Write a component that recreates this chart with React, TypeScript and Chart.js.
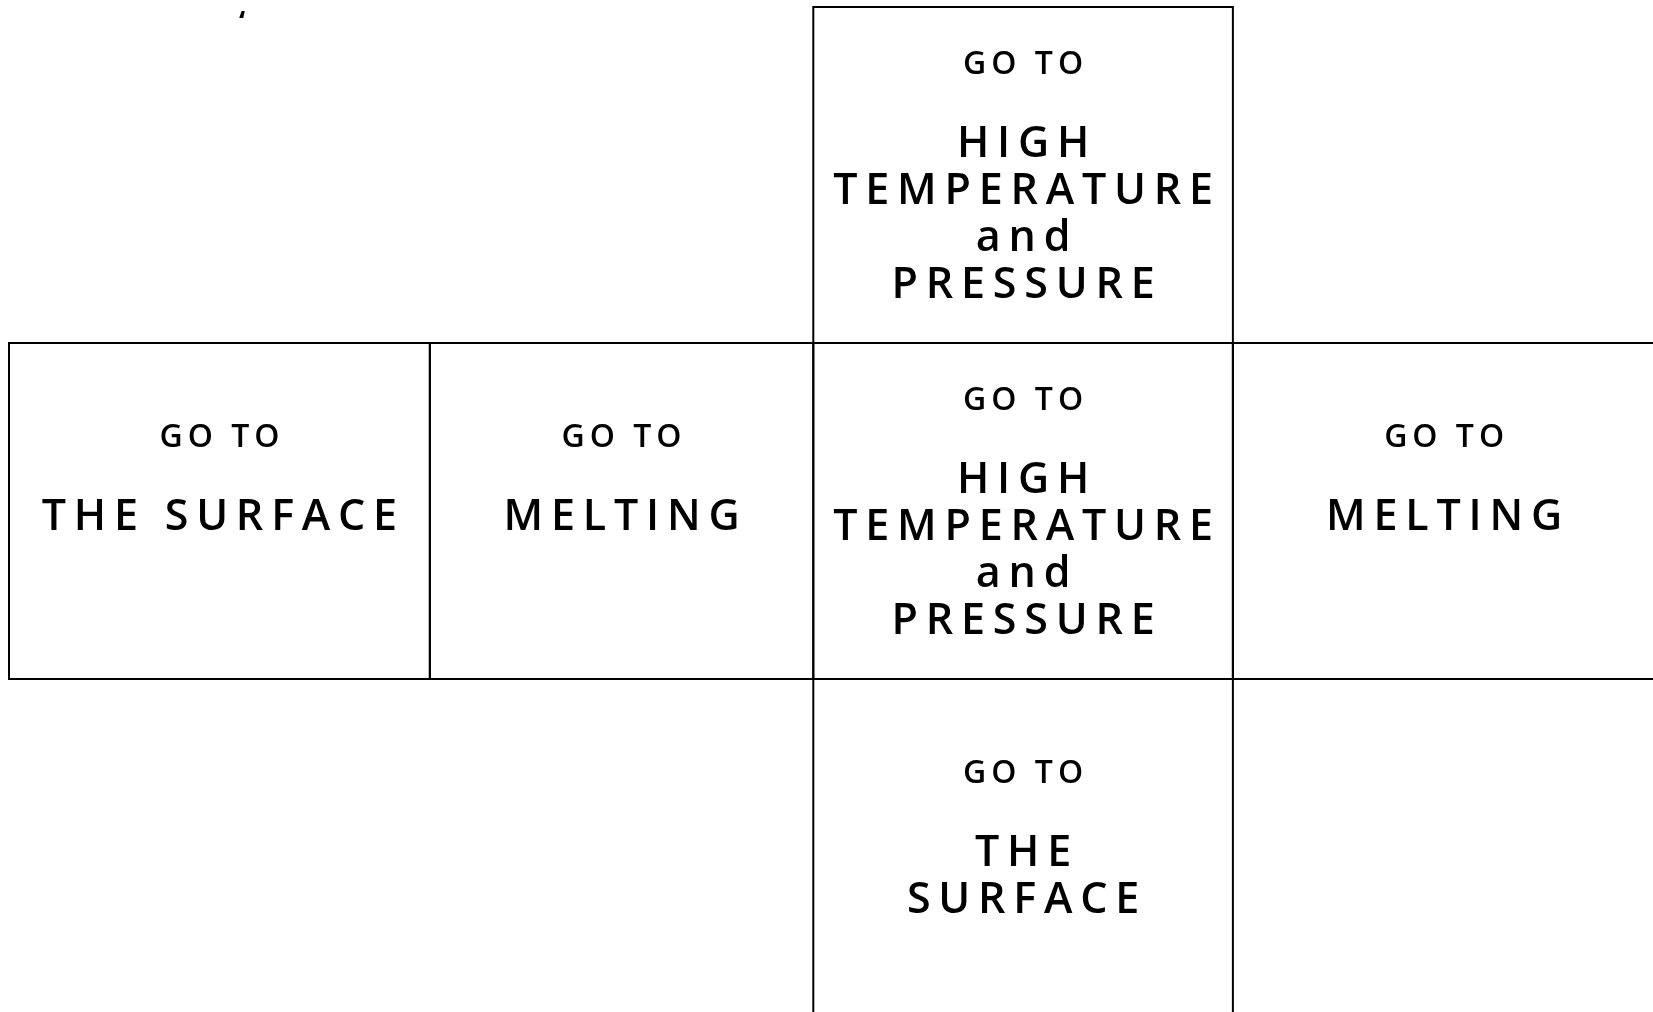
import React, { useEffect, useRef } from "react";
import { Chart, registerables } from "chart.js";

Chart.register(...registerables);

// ---- data: the cells of the net ----
const cellCols = [2, 0, 1, 2, 3, 2];
const cellRows = [0, 1, 1, 1, 1, 2];
const cellHeaders = ["GO TO", "GO TO", "GO TO", "GO TO", "GO TO", "GO TO"];
const cellLines: string[][] = [
  ["HIGH", "TEMPERATURE", "and", "PRESSURE"],
  ["THE SURFACE"],
  ["MELTING"],
  ["HIGH", "TEMPERATURE", "and", "PRESSURE"],
  ["MELTING"],
  ["THE", "SURFACE"],
];
// column / row boundaries in axis units
const columnEdges = [0, 1.002, 1.915, 2.914, 3.92];
const rowEdges = [0, 1, 2, 3];
// stray mark at top-left
const strayText = "\u2018";
const strayX = 0.555;
const strayY = 0.075;

const FONT = "'Open Sans', 'Noto Sans', sans-serif";

function drawSpaced(ctx: CanvasRenderingContext2D, text: string, cx: number, y: number, ls: number) {
  const chars = Array.from(text);
  const widths = chars.map((c) => ctx.measureText(c).width);
  const total = widths.reduce((a, b) => a + b, 0) + ls * (chars.length - 1);
  let x = cx - total / 2;
  ctx.textAlign = "left";
  chars.forEach((c, i) => {
    ctx.fillText(c, x, y);
    x += widths[i] + ls;
  });
}

const netPlugin = {
  id: "net",
  afterDatasetsDraw(chart: any) {
    const ctx: CanvasRenderingContext2D = chart.ctx;
    const xs = chart.scales.x;
    const ys = chart.scales.y;
    ctx.save();
    ctx.strokeStyle = "#000";
    ctx.lineWidth = 2;
    ctx.fillStyle = "#000";
    ctx.textBaseline = "alphabetic";
    cellCols.forEach((c, i) => {
      const r = cellRows[i];
      const x0 = xs.getPixelForValue(columnEdges[c]);
      const x1 = xs.getPixelForValue(columnEdges[c + 1]);
      const y0 = ys.getPixelForValue(rowEdges[r]);
      const y1 = ys.getPixelForValue(rowEdges[r + 1]);
      ctx.strokeRect(x0, y0, x1 - x0, y1 - y0);
      const cx = (x0 + x1) / 2;
      const lines = cellLines[i];
      const n = lines.length;
      const headOff = n > 2 ? 0.2 : 0.3095;
      const firstOff = headOff + 83 / 336;
      const step = 47 / 336;
      ctx.font = `600 32px ${FONT}`;
      drawSpaced(ctx, cellHeaders[i], cx, ys.getPixelForValue(rowEdges[r] + headOff), 5);
      ctx.font = `600 43px ${FONT}`;
      lines.forEach((ln, j) => {
        drawSpaced(ctx, ln, cx, ys.getPixelForValue(rowEdges[r] + firstOff + j * step), 7.8);
      });
    });
    ctx.font = `700 28px ${FONT}`;
    ctx.textAlign = "center";
    ctx.fillText(strayText, xs.getPixelForValue(strayX), ys.getPixelForValue(strayY));
    ctx.restore();
  },
};

export default function App() {
  const ref = useRef<HTMLCanvasElement | null>(null);
  useEffect(() => {
    if (!ref.current) return;
    const chart = new Chart(ref.current, {
      type: "scatter",
      data: {
        datasets: [
          {
            data: cellCols.map((c, i) => ({
              x: (columnEdges[c] + columnEdges[c + 1]) / 2,
              y: cellRows[i] + 0.5,
            })),
            pointRadius: 0,
            showLine: false,
          },
        ],
      },
      options: {
        animation: false,
        responsive: true,
        maintainAspectRatio: false,
        layout: { padding: 0 },
        plugins: { legend: { display: false }, tooltip: { enabled: false } },
        scales: {
          x: { type: "linear", display: false, min: -9 / 420, max: 1644 / 420 },
          y: { type: "linear", display: false, reverse: true, min: -7 / 336, max: 1005 / 336 },
        },
      },
      plugins: [netPlugin],
    });
    return () => chart.destroy();
  }, []);
  return (
    <div style={{ position: "absolute", left: 0, top: 0, width: 1653, height: 1012, background: "#fff" }}>
      <canvas ref={ref} />
    </div>
  );
}
